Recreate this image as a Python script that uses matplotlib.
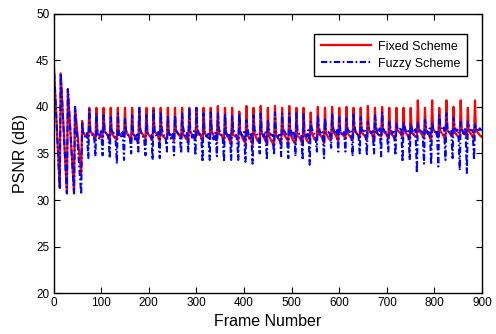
import matplotlib
matplotlib.use("Agg")
import matplotlib.pyplot as plt

plt.rcParams['font.family'] = ['Liberation Sans', 'DejaVu Sans']

# start-up part (frames 0-60): peaks and troughs
early_frames = [0, 13, 15, 28, 30, 43, 45, 58]
fixed_early = [45.0, 31.3, 43.6, 30.8, 41.9, 30.8, 40.0, 32.8]
fuzzy_early = [45.0, 31.2, 43.6, 30.7, 41.9, 30.7, 40.0, 30.6]

# I-frames of the steady part (GOP of 15 frames)
i_frames = list(range(60, 900, 15))

# Fixed scheme: I-frame peak, then values 2, 8 and 13 frames later
fixed_peak = [38.5,
              39.9, 39.9, 39.9, 39.9, 39.9, 39.9, 39.9, 39.9, 39.9,
              39.9, 39.9, 39.9, 39.9, 39.9, 39.9, 39.9, 39.9, 39.9,
              40.1, 39.9, 39.9, 39.5, 40.1, 39.9, 40.1, 39.9, 40.1, 39.9,
              40.1, 39.9, 39.9, 39.4, 40.0, 39.9, 40.0, 39.9, 40.0, 39.9,
              39.9, 40.1, 39.9, 40.0, 39.9, 39.9, 39.9, 39.9, 40.7, 39.9,
              40.7, 39.9, 40.7, 40.0, 40.7, 39.9, 40.7]
fixed_post = [37.2, 37.3, 37.1, 37.4, 37.2, 37.0, 37.3, 37.1, 37.4, 37.2,
              37.3, 37.0, 37.2, 37.4, 37.1, 37.3, 37.0, 37.2, 37.4, 37.1,
              37.2, 37.0, 37.3, 36.9, 37.1, 37.2, 36.9, 37.0, 37.2, 37.1,
              36.9, 37.0, 37.3, 37.1, 37.2, 37.4, 37.3, 37.2, 37.4, 37.3,
              37.5, 37.3, 37.4, 37.2, 37.5, 37.4, 37.3, 37.5, 37.4, 37.6,
              37.4, 37.5, 37.3, 37.6, 37.4, 37.5]
fixed_mid = [36.9, 37.1, 36.8, 37.0, 36.7, 37.1, 36.9, 36.6, 37.0, 36.8,
             37.1, 36.7, 36.9, 37.0, 36.6, 36.9, 37.1, 36.8, 36.7, 37.0,
             36.6, 36.8, 36.5, 36.7, 36.4, 36.6, 36.3, 36.5, 36.7, 36.4,
             36.6, 36.3, 36.5, 36.8, 36.6, 36.9, 37.0, 36.8, 37.1, 36.9,
             37.2, 37.0, 37.1, 36.9, 37.2, 37.0, 36.9, 37.1, 37.0, 37.2,
             37.0, 37.1, 36.9, 37.2, 37.0, 37.1]
fixed_pre = [36.6, 36.4, 36.7, 36.3, 36.5, 36.8, 36.4, 36.2, 36.6, 36.5,
             36.3, 36.6, 36.4, 36.7, 36.3, 36.5, 36.2, 36.6, 36.4, 36.3,
             36.0, 36.4, 36.1, 35.9, 36.2, 36.0, 35.8, 36.1, 36.3, 36.0,
             35.9, 36.2, 36.4, 36.1, 36.5, 36.3, 36.6, 36.4, 36.7, 36.5,
             36.3, 36.8, 36.6, 36.4, 36.7, 36.5, 36.8, 36.6, 36.4, 36.7,
             36.5, 36.8, 36.6, 36.7, 36.5, 36.8]
fixed_end = 36.8

# Fuzzy scheme: I-frame peak, values 2, 6, 10 frames later, dip before next I-frame
fuzzy_peak = [38.4,
              39.7, 39.3, 39.1, 38.9, 39.3, 38.7, 39.1, 39.9, 39.1, 39.6,
              39.5, 39.1, 39.1, 39.3, 39.9, 39.9, 39.3, 39.4, 39.3, 39.3,
              39.1, 39.3, 38.6, 39.1, 39.3, 38.6, 39.4, 39.3, 39.3, 39.3,
              39.2, 38.4, 39.1, 38.8, 39.3, 38.9, 38.8, 39.3, 38.9, 38.4,
              39.1, 39.4, 38.4, 38.2, 38.4, 38.2, 38.3, 38.6, 38.4, 39.1,
              39.3, 38.8, 38.4, 38.4, 38.1]
fuzzy_post = [37.3, 37.5, 37.2, 37.6, 37.4, 37.1, 37.5, 37.3, 37.6, 37.2,
              37.4, 37.7, 37.3, 37.5, 37.8, 37.4, 37.6, 37.2, 37.5, 37.7,
              37.3, 37.6, 37.4, 37.8, 37.5, 37.3, 37.7, 37.4, 37.6, 37.8,
              37.5, 37.3, 37.7, 37.9, 37.6, 37.8, 37.5, 37.7, 37.9, 37.6,
              37.8, 38.0, 37.7, 37.9, 37.6, 38.0, 37.8, 37.6, 37.9, 37.7,
              38.0, 37.8, 37.9, 37.6, 38.0, 37.8]
fuzzy_mid = [36.8, 37.0, 36.6, 36.9, 37.2, 36.7, 37.0, 36.5, 36.9, 37.1,
             36.8, 37.0, 36.6, 37.2, 36.9, 36.7, 37.1, 36.8, 36.5, 37.0,
             36.7, 37.2, 36.9, 36.6, 37.1, 36.8, 37.0, 36.7, 37.3, 36.9,
             37.1, 36.8, 37.2, 37.0, 37.4, 37.1, 36.9, 37.3, 37.0, 37.4,
             37.2, 36.9, 37.3, 37.1, 37.5, 37.2, 37.0, 37.4, 37.1, 37.3,
             37.5, 37.2, 37.4, 37.1, 37.5, 37.3]
fuzzy_mid2 = [37.2, 36.9, 37.4, 37.0, 36.8, 37.3, 36.9, 37.2, 36.7, 37.0,
              37.3, 36.8, 37.1, 36.9, 37.2, 37.4, 36.8, 37.1, 37.3, 36.9,
              37.2, 36.8, 37.3, 37.1, 36.9, 37.4, 37.0, 37.2, 36.9, 37.4,
              37.1, 37.5, 37.0, 37.3, 37.1, 37.6, 37.3, 37.5, 37.2, 37.6,
              37.4, 37.7, 37.3, 37.5, 37.8, 37.4, 37.6, 37.3, 37.7, 37.5,
              37.8, 37.4, 37.6, 37.8, 37.5, 37.7]
# dip just before each I-frame from frame 75 on
fuzzy_dip = [34.5, 34.7, 34.8, 34.5, 33.9, 34.3, 35.0, 35.2, 34.8, 34.3,
             34.5, 35.2, 34.8, 35.0, 35.2, 34.8, 34.1, 34.3, 34.7, 34.1,
             34.3, 34.3, 34.1, 33.9, 35.0, 34.3, 34.8, 34.7, 34.5, 34.7,
             34.3, 33.8, 35.2, 34.5, 35.6, 35.2, 35.2, 34.7, 35.0, 34.8,
             35.0, 34.7, 35.2, 34.8, 34.1, 34.3, 32.9, 33.9, 33.8, 33.6,
             34.3, 34.5, 33.2, 32.9, 34.3]
fuzzy_end = 37.4


def build_fixed():
    x, y = list(early_frames), list(fixed_early)
    for k, p in enumerate(i_frames):
        x += [p, p + 2, p + 8, p + 13]
        y += [fixed_peak[k], fixed_post[k], fixed_mid[k], fixed_pre[k]]
    x.append(900)
    y.append(fixed_end)
    return x, y


def build_fuzzy():
    x, y = list(early_frames), list(fuzzy_early)
    for k, p in enumerate(i_frames):
        x += [p, p + 2, p + 6, p + 10]
        y += [fuzzy_peak[k], fuzzy_post[k], fuzzy_mid[k], fuzzy_mid2[k]]
        if k < len(fuzzy_dip):
            x.append(p + 13)
            y.append(fuzzy_dip[k])
    x.append(900)
    y.append(fuzzy_end)
    return x, y


fx, fy = build_fixed()
zx, zy = build_fuzzy()

fig = plt.figure(figsize=(4.96, 3.34), dpi=100)
ax = fig.add_axes([0.108, 0.122, 0.864, 0.837])

ax.plot(fx, fy, color='red', linestyle='-', linewidth=1.6, label='Fixed Scheme')
ax.plot(zx, zy, color='blue', linestyle=(0, (3, 1.2, 0.8, 1.2)), linewidth=1.5,
        label='Fuzzy Scheme')

ax.set_xlim(0, 900)
ax.set_ylim(20, 50)
ax.set_xticks(range(0, 901, 100))
ax.set_yticks(range(20, 51, 5))
ax.tick_params(direction='in', length=4, width=0.8, top=True, right=True,
               labelsize=8.5, pad=3)
for s in ax.spines.values():
    s.set_linewidth(1.0)

ax.set_xlabel('Frame Number', fontsize=11.5, labelpad=3)
ax.set_ylabel('PSNR (dB)', fontsize=11.5, labelpad=6)

leg = ax.legend(loc='upper right', bbox_to_anchor=(0.964, 0.926), fontsize=9,
                fancybox=False, framealpha=1, edgecolor='black',
                borderaxespad=0, handlelength=4.0, handletextpad=0.6,
                borderpad=0.5, labelspacing=0.4)
leg.get_frame().set_linewidth(1.0)

fig.savefig('out.png', dpi=100)
